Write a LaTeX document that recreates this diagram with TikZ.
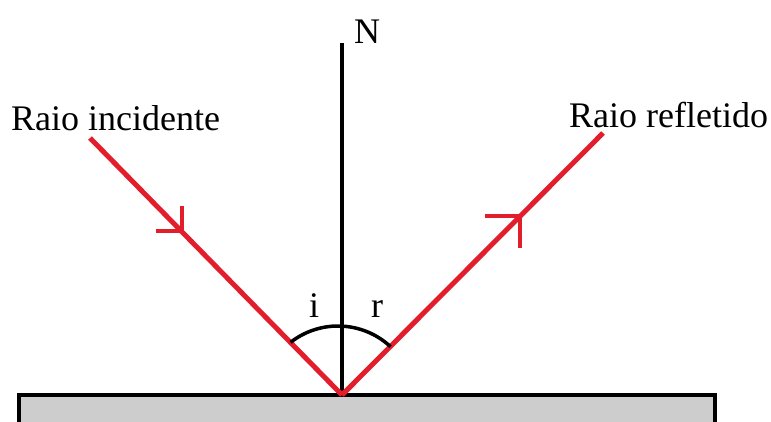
\documentclass[tikz,border=0pt]{standalone}
\usepackage{fontspec}
\setmainfont{Liberation Serif}
\usetikzlibrary{calc}
\definecolor{rayred}{RGB}{226,30,44}
\definecolor{mirrorgray}{RGB}{205,205,205}
\begin{document}
\begin{tikzpicture}[x=1pt,y=-1pt,
  ray/.style={draw=rayred,line width=5pt},
  tipline/.style={draw=rayred,line width=4.5pt,line join=miter},
  normalline/.style={draw=black,line width=3.5pt},
  arcline/.style={draw=black,line width=3.5pt},
  mirror/.style={draw=black,fill=mirrorgray,line width=4.5pt},
  lbl/.style={inner sep=0pt,anchor=base west,font=\fontsize{36}{40}\selectfont}]
\useasboundingbox (0,0) rectangle (771,421);
\clip (0,0) rectangle (771,421);
% mirror
\draw[mirror] (19,395) rectangle (715,450);
% points
\coordinate (O) at (342,395);
\coordinate (Ntop) at (342,43);
\coordinate (A) at (90,138);
\coordinate (B) at (603,133);
% normal
\draw[normalline] (O) -- (Ntop);
% rays
\draw[ray] (A) -- (O);
\draw[ray] (O) -- (B);
% arrow heads
\coordinate (T1) at (182,231);
\coordinate (T2) at (520,216);
\draw[tipline] ($(T1)+(-26,0)$) -- (T1) -- ($(T1)+(0,-25)$);
\draw[tipline] ($(T2)+(-35,0)$) -- (T2) -- ($(T2)+(0,32)$);
% angle arc
\draw[arcline] (338,403) ++(-128:77) arc[start angle=-128,end angle=-47,radius=77];
% labels
\node[lbl] (inc) at (11,130) {Raio incidente};
\node[lbl] (refl) at (569,127) {Raio refletido};
\node[lbl] (N) at (354,43) {N};
\node[lbl] (i) at (309,317) {i};
\node[lbl] (r) at (371,317) {r};
\end{tikzpicture}
\end{document}
